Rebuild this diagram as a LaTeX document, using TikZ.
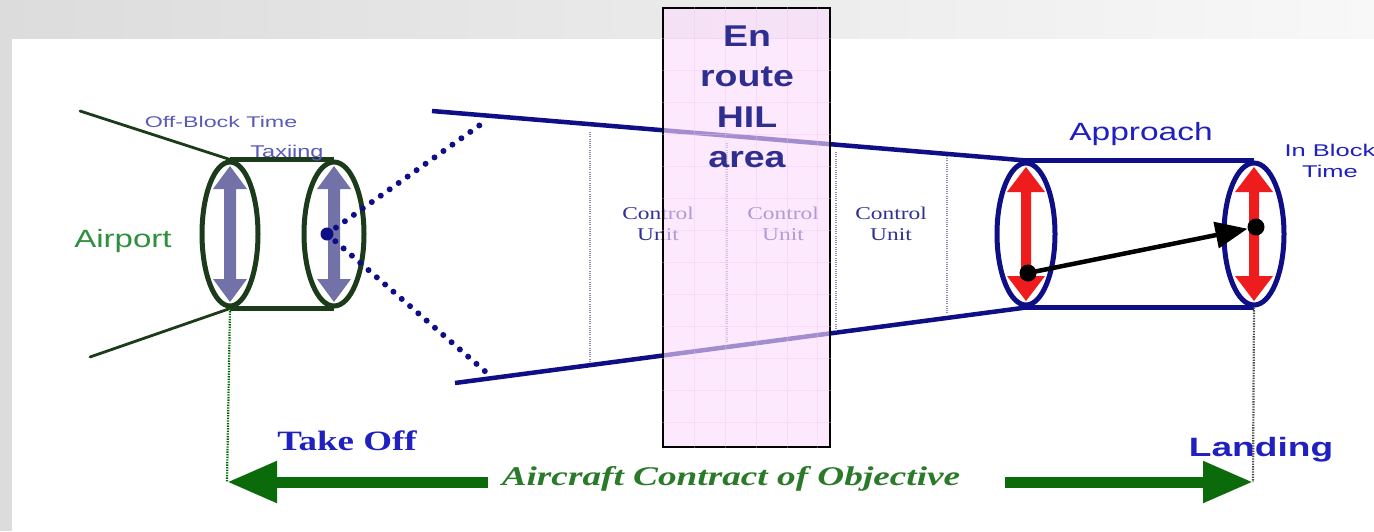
\documentclass[tikz,border=0pt]{standalone}
\usepackage{fontspec}
\setmainfont{Liberation Serif}
\setsansfont{Liberation Sans}
\usetikzlibrary{arrows.meta,shapes.geometric}
\definecolor{bgL}{HTML}{DCDCDC}
\definecolor{bgR}{HTML}{F8F8F8}
\definecolor{cylgreen}{HTML}{1B3B1B}
\definecolor{navy}{HTML}{0E0E86}
\definecolor{arrgreen}{HTML}{0B6B0B}
\definecolor{txtgreen}{HTML}{2F8F3F}
\definecolor{objgreen}{HTML}{2A7A2A}
\definecolor{offblue}{HTML}{5A5AB8}
\definecolor{cublue}{HTML}{303095}
\definecolor{hilblue}{HTML}{2E2E90}
\definecolor{brightblue}{HTML}{2020C0}
\definecolor{greyarr}{HTML}{7272A8}
\definecolor{redarr}{HTML}{EE1C1C}
\definecolor{pinkbox}{HTML}{FDDCFD}
\definecolor{pinkgrid}{HTML}{F2C2F2}
\definecolor{cudot}{HTML}{8C8CB0}
\begin{document}
\begin{tikzpicture}[x=1pt,y=-1pt,
  cylend/.style={draw, ellipse, inner sep=0pt, fill=none},
  dotbig/.style={navy, line width=6pt, line cap=round, dash pattern=on 0pt off 11pt},
  culine/.style={cudot, line width=1.6pt, dash pattern=on 1pt off 1.2pt},
  vguide/.style={line width=2.2pt, dash pattern=on 1.4pt off 1.2pt},
  bigarrow/.style={arrgreen, line width=11pt, -{Triangle[length=50pt,width=39pt]}},
  lbl/.style={inner sep=0pt, anchor=base},
  culabel/.style={inner sep=0pt, align=center, cublue, xscale=1.3, font=\fontsize{18}{21}\selectfont},
  pics/dblarrow/.style n args={4}{code={
    \fill (0,-#1) -- (#3,-#1+#4) -- (#2,-#1+#4) -- (#2,#1-#4) -- (#3,#1-#4) -- (0,#1)
      -- (-#3,#1-#4) -- (-#2,#1-#4) -- (-#2,-#1+#4) -- (-#3,-#1+#4) -- cycle;}}
]
\useasboundingbox (0,0) rectangle (1374,531);
\clip (0,0) rectangle (1374,531);
% background
\fill[white] (0,0) rectangle (1374,531);
\shade[left color=bgL, right color=bgR] (0,0) rectangle (1374,38);
\fill[bgL] (0,0) rectangle (12,531);

% ---- coordinates
\coordinate (w1) at (80,111);
\coordinate (w2) at (90,357);
\coordinate (fu1) at (432,111);
\coordinate (fl1) at (455,383);
\coordinate (d1) at (487,120);
\coordinate (d2) at (487,373);
\coordinate (v1a) at (590,132); \coordinate (v1b) at (590,361);
\coordinate (v2a) at (727,143); \coordinate (v2b) at (727,342);
\coordinate (v3a) at (836,152); \coordinate (v3b) at (836,332);
\coordinate (v4a) at (947,156); \coordinate (v4b) at (947,313);
\coordinate (ls) at (488,482); \coordinate (lt) at (227,482);
\coordinate (rs) at (1005,482); \coordinate (rt) at (1253,482);

% ---- left cylinder (airport / taxiing)
\pic[greyarr] at (230,234) {dblarrow={68}{6}{17}{23}};
\pic[greyarr] at (334,234) {dblarrow={68}{6}{17}{23}};
\node (tL) [cylend, cylgreen, line width=5pt, minimum width=56pt, minimum height=144pt] at (230,234) {};
\node (tR) [cylend, cylgreen, line width=5pt, minimum width=60pt, minimum height=144pt] at (334,234) {};
\draw[cylgreen, line width=4.5pt] (tL.north) -- (tR.north);
\draw[cylgreen, line width=4.5pt] (tL.south) -- (tR.south);
\draw[cylgreen, line width=2.8pt, line cap=round] (w1) -- (tL.north);
\draw[cylgreen, line width=2.8pt, line cap=round] (w2) -- (tL.south);
\node (bd) [circle, fill=navy, minimum size=13pt, inner sep=0pt] at (327,234) {};
\draw[dotbig] (bd.center) -- (d1);
\draw[dotbig] (bd.center) -- (d2);

% ---- right cylinder (approach)
\pic[redarr] at (1026,234) {dblarrow={67}{5}{19}{25}};
\pic[redarr] at (1254,234) {dblarrow={67}{5}{19}{25}};
\node (apL) [cylend, navy, line width=5pt, minimum width=58pt, minimum height=142pt] at (1026,234) {};
\node (apR) [cylend, navy, line width=5pt, minimum width=60pt, minimum height=142pt] at (1254,234) {};
\draw[navy, line width=5pt] (apL.north) -- (apR.north);
\draw[navy, line width=5pt] (apL.south) -- (apR.south);
\draw[navy, line width=4.5pt] (fu1) -- (apL.north);
\draw[navy, line width=4.5pt] (fl1) -- (apL.south);
\node (k1) [circle, fill=black, minimum size=17pt, inner sep=0pt] at (1028,273) {};
\node (k2) [circle, fill=black, minimum size=17pt, inner sep=0pt] at (1256,227) {};
\draw[black, line width=4.5pt, -{Triangle[length=32pt,width=26pt]}] (k1.center) -- (k2);

% ---- control unit separators and labels
\draw[culine] (v1a) -- (v1b);
\draw[culine] (v2a) -- (v2b);
\draw[culine] (v3a) -- (v3b);
\draw[culine] (v4a) -- (v4b);
\node (cu1) [culabel] at (658,224) {Control\\Unit};
\node (cu2) [culabel] at (783,224) {Control\\Unit};
\node (cu3) [culabel] at (891,224) {Control\\Unit};

% ---- En route HIL area box
\node (hil) [draw=black, line width=1.8pt, fill=pinkbox, fill opacity=0.62,
  minimum width=167pt, minimum height=439pt, inner sep=0pt] at (746.5,227.5) {};
\begin{scope}
  \clip (hil.south west) rectangle (hil.north east);
  \foreach \gx in {694,725,756,787,817} \draw[pinkgrid, line width=0.5pt, opacity=0.35] (\gx,0) -- (\gx,531);
  \foreach \gy in {38,70,102,134,166,198,230,262,294,326,358,390,422} \draw[pinkgrid, line width=0.5pt, opacity=0.35] (600,\gy) -- (900,\gy);
\end{scope}
\node (hiltext) [inner sep=0pt, align=center, hilblue, xscale=1.25,
  font=\sffamily\bfseries\fontsize{30}{40.5}\selectfont] at (747,97) {En\\route\\HIL\\area};

% ---- labels
\node (offb) [lbl, offblue, xscale=1.5, font=\sffamily\fontsize{15.5}{18}\selectfont] at (221,127) {Off-Block Time};
\node (taxi) [lbl, offblue, xscale=1.38, font=\sffamily\fontsize{17}{18}\selectfont] at (287,157.5) {Taxiing};
\node (airp) [lbl, txtgreen, xscale=1.32, font=\sffamily\fontsize{25}{28}\selectfont] at (123,247) {Airport};
\node (appr) [lbl, brightblue, xscale=1.34, font=\sffamily\fontsize{25}{28}\selectfont] at (1141,140) {Approach};
\node (inblk) [inner sep=0pt, align=center, brightblue, xscale=1.5, font=\sffamily\fontsize{17}{21}\selectfont] at (1330,161) {In Block\\Time};
\node (tkoff) [lbl, brightblue, xscale=1.32, font=\rmfamily\bfseries\fontsize{28}{30}\selectfont] at (347,450) {Take Off};
\node (land) [lbl, brightblue, xscale=1.4, font=\sffamily\bfseries\fontsize{26.5}{30}\selectfont] at (1261,456) {Landing};
\node (obj) [lbl, objgreen, xscale=1.38, font=\rmfamily\bfseries\itshape\fontsize{27}{30}\selectfont] at (731,485) {Aircraft Contract of Objective};

% ---- take-off / landing guides and arrows
\draw[vguide, green!40!black] (tL.south) -- (lt);
\draw[vguide, black!70] (apR.south) -- (rt);
\draw[bigarrow] (ls) -- (lt);
\draw[bigarrow] (rs) -- (rt);
\end{tikzpicture}
\end{document}
